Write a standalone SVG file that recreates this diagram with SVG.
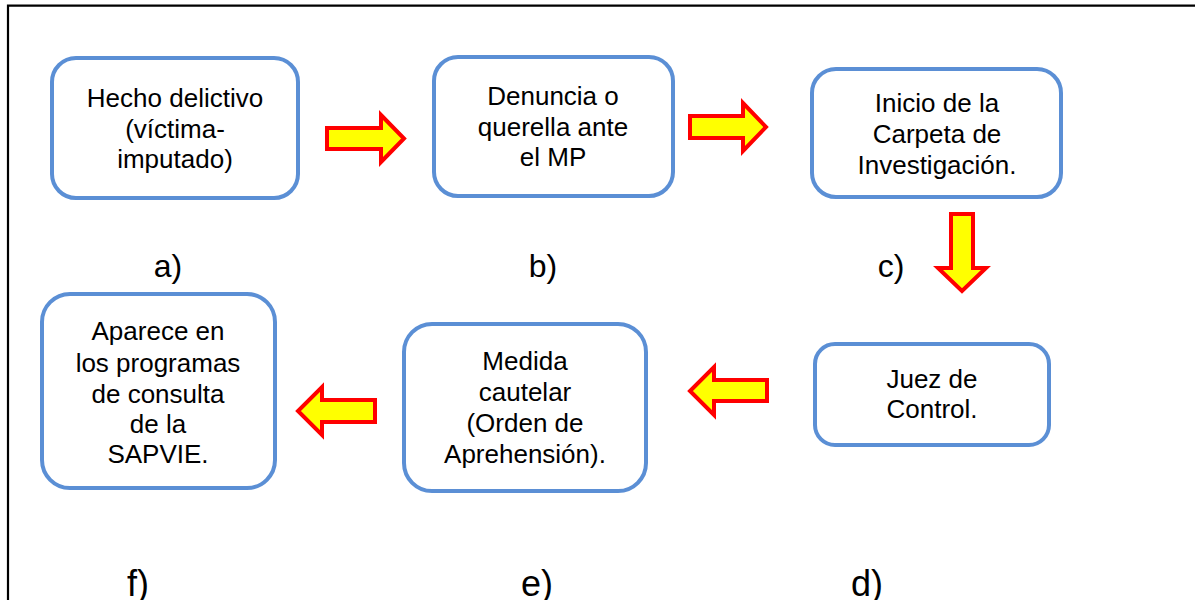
<svg xmlns="http://www.w3.org/2000/svg" width="1195" height="600" viewBox="0 0 1195 600">
<style>
.box{fill:#ffffff;stroke:#5b8fd5;stroke-width:4}
.arr{fill:#ffff00;stroke:#ff0000;stroke-width:4;stroke-linejoin:miter}
text{font-family:"Liberation Sans",Arial,sans-serif;font-size:26px;fill:#000;text-anchor:middle}
.lbl{font-size:32px}
.lbl2{font-size:36px}
</style>
<rect width="1195" height="600" fill="#ffffff"/>
<path d="M8,600 V5.7 H1195" fill="none" stroke="#000" stroke-width="2.2"/>
<g id="node-a">
<rect class="box" x="52" y="58" width="246" height="140" rx="24"/>
<text x="175" y="107">Hecho delictivo</text>
<text x="175" y="138">(víctima-</text>
<text x="175" y="168">imputado)</text>
</g>
<g id="node-b">
<rect class="box" x="434" y="57" width="239" height="139" rx="24"/>
<text x="553" y="105">Denuncia o</text>
<text x="553" y="136">querella ante</text>
<text x="553" y="166">el MP</text>
</g>
<g id="node-c">
<rect class="box" x="812" y="69" width="249" height="128" rx="24"/>
<text x="937" y="112">Inicio de la</text>
<text x="937" y="143">Carpeta de</text>
<text x="937" y="174">Investigación.</text>
</g>
<g id="node-d">
<rect class="box" x="815" y="344" width="234" height="101" rx="20"/>
<text x="932" y="388">Juez de</text>
<text x="932" y="418">Control.</text>
</g>
<g id="node-e">
<rect class="box" x="404" y="324" width="242" height="167" rx="28"/>
<text x="525" y="370">Medida</text>
<text x="525" y="401">cautelar</text>
<text x="525" y="432">(Orden de</text>
<text x="525" y="463">Aprehensión).</text>
</g>
<g id="node-f">
<rect class="box" x="42" y="294" width="233" height="194" rx="28"/>
<text x="158" y="340">Aparece en</text>
<text x="158" y="372">los programas</text>
<text x="158" y="403">de consulta</text>
<text x="158" y="433">de la</text>
<text x="158" y="463">SAPVIE.</text>
</g>
<g id="labels">
<text class="lbl" x="168" y="277">a)</text>
<text class="lbl" x="543" y="277">b)</text>
<text class="lbl" x="891" y="277">c)</text>
<text class="lbl2" x="867" y="596">d)</text>
<text class="lbl2" x="537" y="596">e)</text>
<text class="lbl2" x="138" y="596">f)</text>
</g>
<g id="connectors">
<polygon class="arr" points="327,128 381,128 381,115 404,138.5 381,162 381,149 327,149"/>
<polygon class="arr" points="690,116 743,116 743,103 766,127 743,151 743,138 690,138"/>
<polygon class="arr" points="951,214 973,214 973,268 986,268 962,291 938,268 951,268"/>
<polygon class="arr" points="767,380 767,401 714,401 714,415 690,391 714,367 714,380"/>
<polygon class="arr" points="375,400 375,422 322,422 322,435 298,411 322,387 322,400"/>
</g>
</svg>
